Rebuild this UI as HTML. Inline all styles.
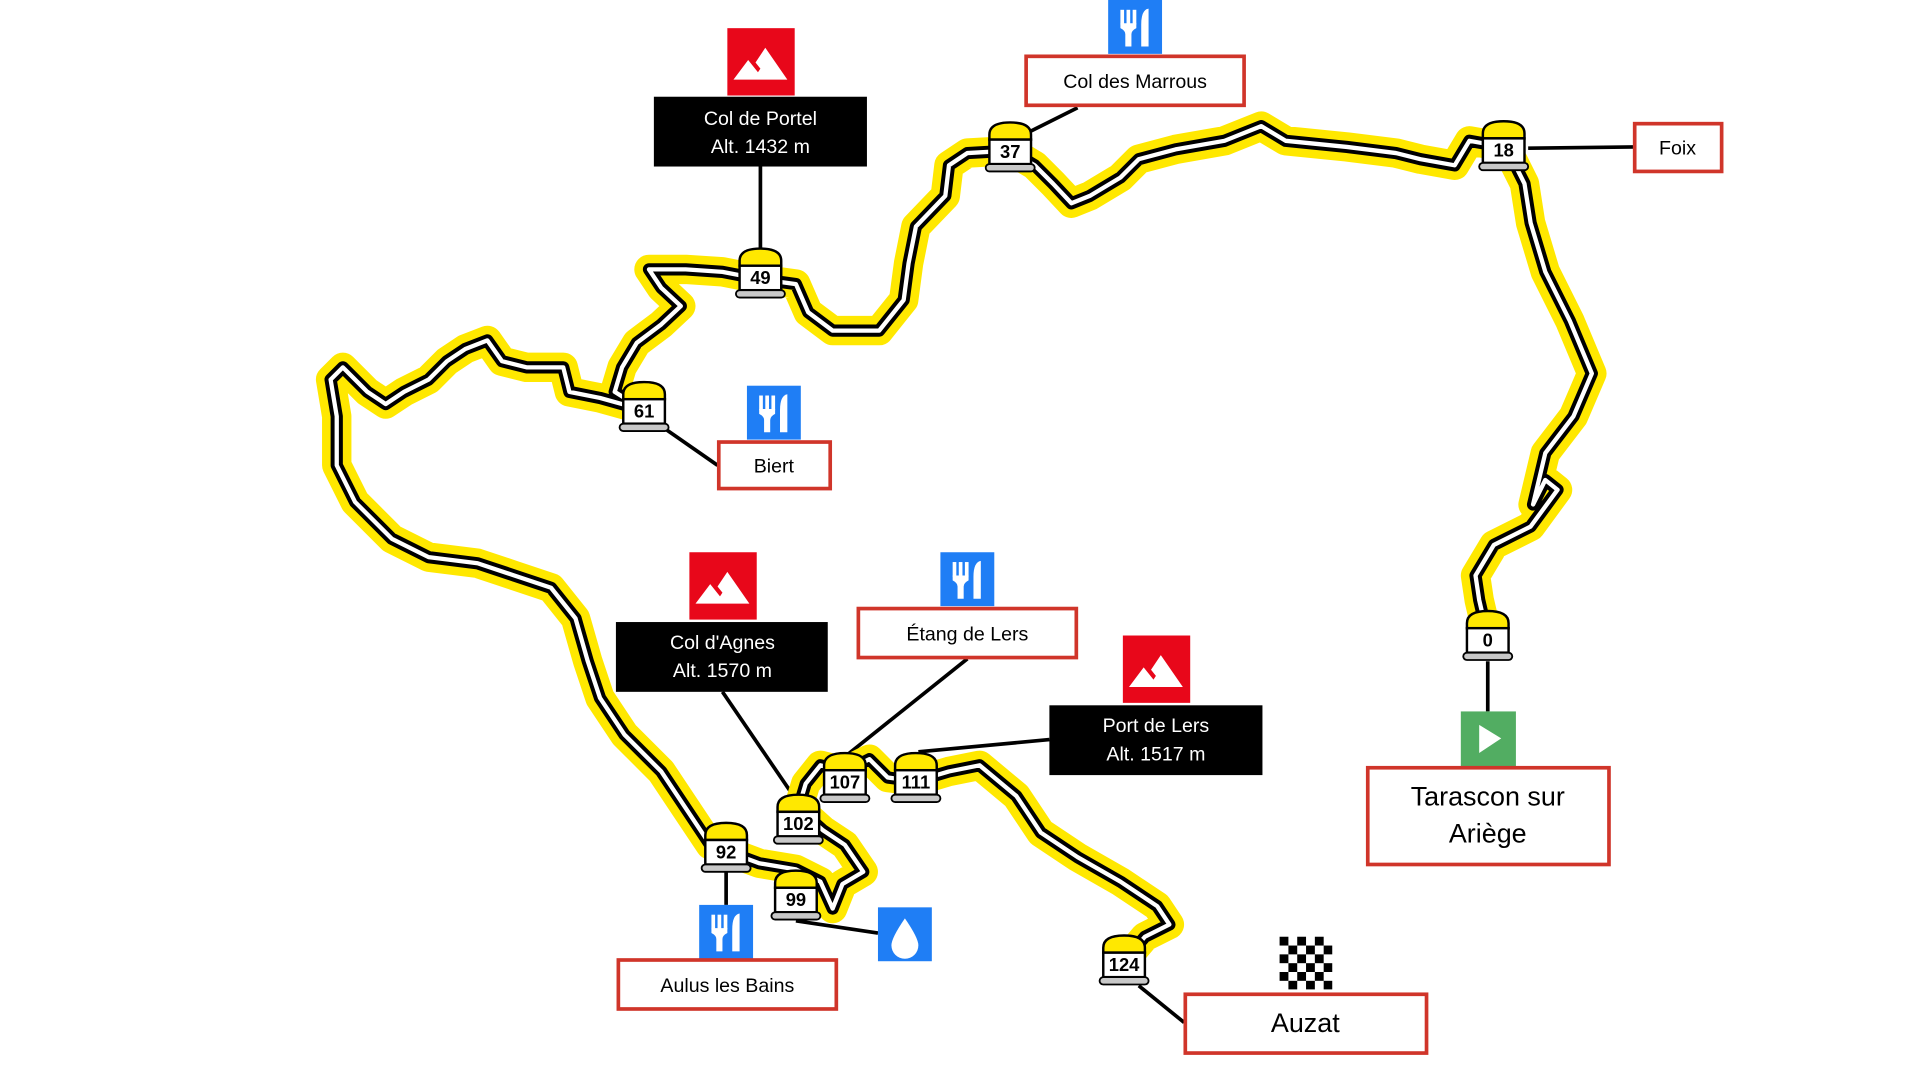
<!DOCTYPE html>
<html><head><meta charset="utf-8"><style>
html,body{margin:0;padding:0;background:#fff;width:1920px;height:1080px;overflow:hidden}
svg{display:block}
text{font-family:"Liberation Sans",sans-serif}
</style></head><body>
<svg width="1920" height="1080" viewBox="0 0 1568 882" preserveAspectRatio="none" xmlns="http://www.w3.org/2000/svg">
<defs>
<path id="rt" d="M1215,520 L1208,490 L1205,470 L1220,445 L1250,430 L1272,400 L1262,392 L1252,412 L1262,370 L1285,340 L1300,305 L1282,262 L1262,222 L1250,182 L1245,150 L1236,132 L1228,120 L1200,115 L1188,135 L1160,130 L1140,125 L1100,120 L1050,115 L1030,103 L1000,115 L960,122 L930,130 L915,145 L890,160 L875,166 L860,150 L845,135 L825,123 L790,125 L775,135 L772,160 L748,185 L742,215 L738,245 L718,270 L680,270 L660,255 L650,232 L621,228 L590,222 L560,220 L530,220 L540,235 L556,250 L540,265 L520,280 L508,300 L502,320 L526,335 L490,325 L465,320 L460,300 L430,300 L410,295 L398,278 L380,285 L365,295 L350,310 L330,320 L315,330 L300,320 L280,300 L270,310 L275,340 L275,380 L290,410 L320,440 L350,455 L390,460 L420,470 L450,480 L470,505 L480,540 L490,570 L510,600 L540,630 L560,660 L580,690 L593,695 L620,705 L650,710 L670,720 L680,742 L688,722 L705,712 L690,690 L672,678 L652,660 L658,640 L670,625 L690,630 L710,620 L725,635 L748,638 L775,630 L800,625 L830,650 L850,680 L880,700 L915,720 L945,740 L955,755 L935,765 L918,785"/>
<g id="mk">
<path d="M-17,-9 L-17,-13 Q-17,-23 0,-23 Q17,-23 17,-13 L17,-9 Z" fill="#ffe800" stroke="#000" stroke-width="2"/>
<rect x="-17" y="-9" width="34" height="20" fill="#fff" stroke="#000" stroke-width="2"/>
<rect x="-20" y="11" width="40" height="6" rx="3" fill="#c8c8c8" stroke="#000" stroke-width="1.5"/>
</g>
<g id="fork">
<rect x="-11" y="-14" width="3" height="12" fill="#fff"/>
<rect x="-6" y="-14" width="3" height="12" fill="#fff"/>
<rect x="-1" y="-14" width="3" height="12" fill="#fff"/>
<path d="M-11,-3 L2,-3 L2,1 Q-2,3 -2,6 L-2,16 L-7,16 L-7,6 Q-7,3 -11,1 Z" fill="#fff"/>
<path d="M6,16 L6,-2 Q6,-14 12,-15 L12,16 Z" fill="#fff"/>
</g>
<g id="mtn">
<polygon points="-22,13 -10,-3 -2,7 0,4 -4,-1 4,-13 22,13" fill="#fff"/>
</g>
</defs>

<!-- connectors -->
<g stroke="#000" stroke-width="3" fill="none">
<line x1="621" y1="136" x2="621" y2="206"/>
<line x1="880" y1="88" x2="840" y2="108"/>
<line x1="1248" y1="121" x2="1335" y2="120"/>
<line x1="540" y1="348" x2="586" y2="380"/>
<line x1="590" y1="565" x2="648" y2="650"/>
<line x1="790" y1="538" x2="690" y2="618"/>
<line x1="857" y1="604" x2="750" y2="614"/>
<line x1="1215" y1="540" x2="1215" y2="581"/>
<line x1="593" y1="712" x2="593" y2="739"/>
<line x1="650" y1="752" x2="717" y2="762"/>
<line x1="930" y1="805" x2="967" y2="835"/>
</g>

<!-- route -->
<g fill="none" stroke-linejoin="round" stroke-linecap="round">
<use href="#rt" stroke="#ffe800" stroke-width="24"/>
<use href="#rt" stroke="#000" stroke-width="10"/>
<use href="#rt" stroke="#fff" stroke-width="3.5"/>
</g>

<!-- markers -->
<g font-size="15" font-weight="bold" text-anchor="middle">
<use href="#mk" x="1215" y="522"/><text x="1215" y="528">0</text>
<use href="#mk" x="1228" y="122"/><text x="1228" y="128">18</text>
<use href="#mk" x="825" y="123"/><text x="825" y="129">37</text>
<use href="#mk" x="621" y="226"/><text x="621" y="232">49</text>
<use href="#mk" x="526" y="335"/><text x="526" y="341">61</text>
<use href="#mk" x="593" y="695"/><text x="593" y="701">92</text>
<use href="#mk" x="650" y="734"/><text x="650" y="740">99</text>
<use href="#mk" x="652" y="672"/><text x="652" y="678">102</text>
<use href="#mk" x="690" y="638"/><text x="690" y="644">107</text>
<use href="#mk" x="748" y="638"/><text x="748" y="644">111</text>
<use href="#mk" x="918" y="787"/><text x="918" y="793">124</text>
</g>

<!-- icons -->
<rect x="594" y="23" width="55" height="55" fill="#e8071a"/><use href="#mtn" x="621" y="52"/>
<rect x="563" y="451" width="55" height="55" fill="#e8071a"/><use href="#mtn" x="590" y="480"/>
<rect x="917" y="519" width="55" height="55" fill="#e8071a"/><use href="#mtn" x="944" y="548"/>
<rect x="905" y="0" width="44" height="44" fill="#1f7ef5"/><use href="#fork" x="926" y="22"/>
<rect x="610" y="315" width="44" height="44" fill="#1f7ef5"/><use href="#fork" x="631" y="337"/>
<rect x="768" y="451" width="44" height="44" fill="#1f7ef5"/><use href="#fork" x="789" y="473"/>
<rect x="571" y="739" width="44" height="44" fill="#1f7ef5"/><use href="#fork" x="592" y="761"/>
<rect x="717" y="741" width="44" height="44" fill="#1f7ef5"/>
<path d="M739,750 Q728,766 728,772 A11,11 0 0 0 750,772 Q750,766 739,750 Z" fill="#fff"/>
<rect x="1193" y="581" width="45" height="45" fill="#52ad62"/>
<polygon points="1208,592 1208,615 1226,603" fill="#fff"/>
<g>
<rect x="1045" y="765" width="43" height="43" fill="#fff"/>
<g fill="#000">
<rect x="1045" y="765" width="7.2" height="7.2"/><rect x="1059.4" y="765" width="7.2" height="7.2"/><rect x="1073.8" y="765" width="7.2" height="7.2"/>
<rect x="1052.2" y="772.2" width="7.2" height="7.2"/><rect x="1066.6" y="772.2" width="7.2" height="7.2"/><rect x="1081" y="772.2" width="7" height="7.2"/>
<rect x="1045" y="779.4" width="7.2" height="7.2"/><rect x="1059.4" y="779.4" width="7.2" height="7.2"/><rect x="1073.8" y="779.4" width="7.2" height="7.2"/>
<rect x="1052.2" y="786.6" width="7.2" height="7.2"/><rect x="1066.6" y="786.6" width="7.2" height="7.2"/><rect x="1081" y="786.6" width="7" height="7.2"/>
<rect x="1045" y="793.8" width="7.2" height="7.2"/><rect x="1059.4" y="793.8" width="7.2" height="7.2"/><rect x="1073.8" y="793.8" width="7.2" height="7.2"/>
<rect x="1052.2" y="801" width="7.2" height="7"/><rect x="1066.6" y="801" width="7.2" height="7"/><rect x="1081" y="801" width="7" height="7"/>
</g></g>

<!-- black boxes -->
<rect x="534" y="79" width="174" height="57" fill="#000"/>
<text x="621" y="102" fill="#fff" font-size="16" text-anchor="middle">Col de Portel</text>
<text x="621" y="125" fill="#fff" font-size="16" text-anchor="middle">Alt. 1432 m</text>
<rect x="503" y="508" width="173" height="57" fill="#000"/>
<text x="590" y="530" fill="#fff" font-size="16" text-anchor="middle">Col d'Agnes</text>
<text x="590" y="553" fill="#fff" font-size="16" text-anchor="middle">Alt. 1570 m</text>
<rect x="857" y="576" width="174" height="57" fill="#000"/>
<text x="944" y="598" fill="#fff" font-size="16" text-anchor="middle">Port de Lers</text>
<text x="944" y="621" fill="#fff" font-size="16" text-anchor="middle">Alt. 1517 m</text>

<!-- red boxes -->
<g fill="#fff" stroke="#d0352a" stroke-width="3">
<rect x="838" y="46" width="178" height="40"/>
<rect x="1335" y="101" width="71" height="39"/>
<rect x="587" y="361" width="91" height="38"/>
<rect x="701" y="497" width="178" height="40"/>
<rect x="1117" y="627" width="197" height="79"/>
<rect x="505" y="784" width="178" height="40"/>
<rect x="968" y="812" width="197" height="48"/>
</g>
<g font-size="16" text-anchor="middle" fill="#000">
<text x="927" y="72">Col des Marrous</text>
<text x="1370" y="126">Foix</text>
<text x="632" y="386">Biert</text>
<text x="790" y="523">Étang de Lers</text>
<text x="594" y="810">Aulus les Bains</text>
<text x="1215" y="658" font-size="22">Tarascon sur</text>
<text x="1215" y="688" font-size="22">Ariège</text>
<text x="1066" y="843" font-size="22">Auzat</text>
</g>
</svg>
</body></html>
